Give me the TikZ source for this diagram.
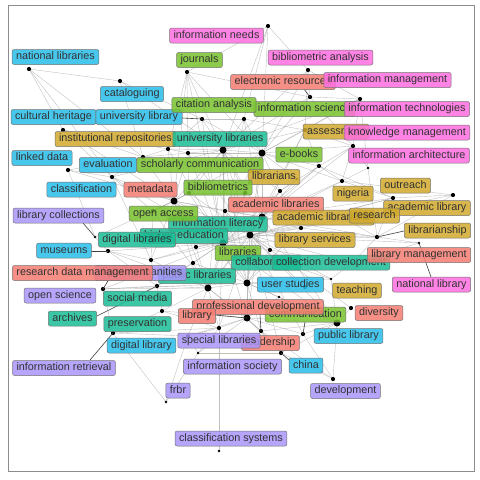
\documentclass[tikz,border=0pt]{standalone}
\usepackage{fontspec}
\setmainfont{Liberation Sans}
\definecolor{blueL}{RGB}{40,190,235}
\definecolor{pinkL}{RGB}{255,110,225}
\definecolor{salmonL}{RGB}{245,125,115}
\definecolor{greenL}{RGB}{120,195,45}
\definecolor{goldL}{RGB}{210,170,45}
\definecolor{tealL}{RGB}{25,190,150}
\definecolor{purpleL}{RGB}{170,150,250}
\definecolor{txt}{RGB}{50,50,50}
\tikzset{
  lab/.style={draw=black!55, line width=0.5pt, rounded corners=2pt, fill opacity=0.85, text opacity=1,
    inner xsep=4pt, inner ysep=0pt, minimum height=15pt, text height=8pt, text depth=2.5pt,
    text=txt, font=\fontsize{10.8}{12}\selectfont},
  bl/.style={lab, fill=blueL}, pk/.style={lab, fill=pinkL}, sa/.style={lab, fill=salmonL},
  gr/.style={lab, fill=greenL}, go/.style={lab, fill=goldL}, te/.style={lab, fill=tealL},
  pu/.style={lab, fill=purpleL},
  edge/.style={draw=black!40, line width=0.4pt, opacity=0.6},
  seg/.style={draw=black!75, line width=0.6pt},
}
\begin{document}
\begin{tikzpicture}[x=1pt,y=-1pt]
\useasboundingbox (0,0) rectangle (480,480);
\fill[white] (0,0) rectangle (480,480);
\draw[black!45, line width=0.7pt] (8,5) rectangle (474,471);
% points
\foreach \n/\x/\y in {1/29/69, 2/120/81, 3/268/26, 4/187/72, 5/308/70, 6/310/97, 7/360/99, 8/202/119,
  9/63/130, 10/168/149, 11/188/153, 12/223/150, 13/143/157, 14/244/119, 15/262/153, 16/305/130,
  17/353/146, 18/68/170, 19/112/177, 20/174/201, 21/153/211, 22/189/193, 23/225/211, 24/223/243,
  25/196/247, 26/193/263, 27/151/260, 28/157/286, 29/208/288, 30/162/311, 31/319/166, 32/280/191,
  33/301/228, 34/270/250, 35/247/283, 36/279/297, 37/331/279, 38/351/308, 39/368/168, 40/297/179,
  41/345/219, 42/352/263, 43/342/181, 44/453/195, 45/393/198, 46/377/237, 47/419/243, 48/262/217,
  49/250/235, 50/95/237, 51/108/251, 52/103/289, 53/113/333, 55/247/318, 56/219/328, 57/261/331,
  58/303/334, 59/337/323, 60/188/336, 61/198/353, 62/281/353, 63/333/379, 64/166/402, 65/219/451,
  66/245/193, 67/305/287}
  \coordinate (p\n) at (\x,\y);
% edges
\foreach \a/\b in {1/2,1/9,1/13,1/19, 2/8,2/13,2/12, 3/4,3/5,3/12,3/15,3/14,
  4/10,4/11,4/12,4/15,4/20,4/24,4/6, 5/6,5/7,5/15,5/12,5/16, 6/15,6/7,6/17,6/12,
  7/17,7/16,7/15,7/39,7/12, 8/12,8/14,8/10,8/15,8/24, 9/13,9/19,9/10,9/20,
  10/11,10/12,10/20,10/24,10/13, 11/12,11/15,11/20,11/22,11/24,11/49,
  12/14,12/15,12/20,12/22,12/24,12/49,12/48,12/23,12/35,12/32,12/29,12/66,12/16,
  13/19,13/20,13/18,13/11, 14/15,14/16,14/24,14/48,
  15/16,15/17,15/48,15/49,15/24,15/31,15/32,15/40,15/35,15/20,15/43,15/29,15/23,
  16/17,16/31,16/48,16/49, 17/39,17/31,17/48,17/43, 18/19,18/20,18/50,
  19/20,19/21,19/24,19/27,19/12, 20/21,20/22,20/23,20/24,20/25,20/49,20/48,20/29,20/35,20/26,20/27,
  21/24,21/22,21/27,21/29, 22/24,22/66,22/49, 23/24,23/48,23/49,23/35,
  24/25,24/26,24/29,24/35,24/48,24/49,24/33,24/34,24/55,24/59,24/37,24/32,24/31,24/43,24/45,24/46,24/28,24/27,24/52,24/51,24/56,
  25/27,25/29,25/49, 26/29,26/28,26/35, 27/51,27/28,27/29, 28/29,28/52,28/30,
  29/35,29/49,29/48,29/55,29/30,29/56,29/60,29/57, 30/55,30/56,30/53,
  31/32,31/43,31/48,31/45, 32/48,32/49,32/33,32/40, 33/48,33/49,33/46,33/35,33/41,
  34/49,34/35,34/48,34/42, 35/36,35/48,35/49,35/55,35/59,35/37,35/57,35/67,
  36/55,36/59, 37/42,37/59,37/49, 38/59,38/49, 39/43,39/46, 40/48, 41/46,41/49,
  42/49,42/46,42/47, 43/48,43/45,43/44, 44/45,44/49,44/46, 45/48,45/49,45/46,
  46/49,46/47,46/48, 47/49, 48/49,48/55,48/59, 49/55,49/59,49/56,49/67,49/58,49/62,
  50/20,50/51, 51/29,51/28, 52/29,52/53,52/35, 53/56,53/60,53/64,
  55/56,55/57,55/58,55/59,55/60,55/61,55/62, 56/60,56/65,56/61, 57/62,57/63,57/59,
  58/59,58/63,58/62, 59/63,59/62, 60/61,60/64, 61/62,61/64, 62/63}
  \draw[edge] (p\a) -- (p\b);
% dots
\foreach \n in {12,15,20,24,29,35,48,49,55,59} \fill[black] (p\n) circle (3.5);
\foreach \n in {1,2,3,4,5,6,7,8,9,10,11,13,14,16,17,18,19,21,22,23,25,26,27,28,30,31,32,33,34,38,43,44,45,46,51,52,53,56,57,58,60,62,63,66,67}
  \fill[black] (p\n) circle (2.1);
\foreach \n in {36,37,39,40,41,42,47,50,61,64,65} \fill[black] (p\n) circle (1.4);
% label segments
\coordinate (s1) at (182,118); \draw[seg] (s1) -- (p8);
\coordinate (s2) at (304,89); \draw[seg] (s2) -- (p6);
\coordinate (s3) at (83,223); \draw[seg] (s3) -- (p50);
\coordinate (s4) at (91,251); \draw[seg] (s4) -- (p51);
\coordinate (s5) at (404,231); \draw[seg] (s5) -- (p46);
\coordinate (s6) at (431,277); \draw[seg] (s6) -- (p47);
\coordinate (s7) at (289,360); \draw[seg] (s7) -- (p62);
\coordinate (s8) at (90,360); \draw[seg] (s8) -- (p53);
\coordinate (s9) at (97,316); \draw[seg] (s9) -- (p28);
\coordinate (s10) at (215,315); \draw[seg] (s10) -- (p55);
\coordinate (s11) at (260,314); \draw[seg] (s11) -- (p57);
\coordinate (s12) at (305,322); \draw[seg] (s12) -- (p58);
\coordinate (s13) at (108,281); \draw[seg] (s13) -- (p52);
% labels
\node[pk] (infoneeds) at (216.5,35.5) {information needs};
\node[pk] (biban) at (320.5,57.5) {bibliometric analysis};
\node[bl] (natlib) at (55.5,57) {national libraries};
\node[gr] (journals) at (199.5,60) {journals};
\node[sa] (eres) at (283,82) {electronic resources};
\node[pk] (infomgmt) at (387.5,80) {information management};
\node[bl] (catal) at (132,94) {cataloguing};
\node[gr] (infosci) at (304.5,109) {information science};
\node[pk] (infotech) at (407,109) {information technologies};
\node[bl] (cultural) at (53.5,117) {cultural heritage};
\node[bl] (univlib) at (139,117) {university library};
\node[gr] (citation) at (214,105) {citation analysis};
\node[go] (assess) at (336,131.5) {assessment};
\node[pk] (knowm) at (407,132.5) {knowledge management};
\node[go] (instrep) at (115.5,139) {institutional repositories};
\node[te] (univlibs) at (220,139) {university libraries};
\node[gr] (ebooks) at (299,154.5) {e-books};
\node[pk] (infoarch) at (409,155.5) {information architecture};
\node[bl] (linked) at (42,158) {linked data};
\node[bl] (evalu) at (108,165) {evaluation};
\node[gr] (scholarly) at (200,165) {scholarly communication};
\node[go] (librarians) at (274,177) {librarians};
\node[go] (outreach) at (405.5,185.5) {outreach};
\node[go] (nigeria) at (353,193.5) {nigeria};
\node[bl] (classif) at (81.5,189.5) {classification};
\node[sa] (metadata) at (150.5,189.5) {metadata};
\node[gr] (bibliometrics) at (218,187.5) {bibliometrics};
\node[sa] (acadlibs) at (276,204.5) {academic libraries};
\node[go] (acadlibrarians) at (323.5,217.5) {academic librarians};
\node[go] (acadlibrary) at (427,208) {academic library};
\node[go] (research) at (374.5,215.5) {research};
\node[go] (librarianship) at (437.5,230.5) {librarianship};
\node[pu] (libcoll) at (58.5,215.5) {library collections};
\node[te] (infolit) at (218,224) {information literacy};
\node[te] (higher) at (184,236) {higher education};
\node[te] (diglibs) at (137,239.5) {digital libraries};
\node[gr] (openacc) at (163.5,213.5) {open access};
\node[go] (libservices) at (315,240) {library services};
\node[bl] (museums) at (64,250.5) {museums};
\node[gr] (libraries) at (238,253) {libraries};
\node[te] (collab) at (266,262.5) {collaboration};
\node[te] (colldev) at (331,262.5) {collection development};
\node[sa] (libmgmt) at (419,255) {library management};
\node[te] (publibs) at (197,276) {public libraries};
\node[pu] (dighum) at (140.5,273) {digital humanities};
\node[sa] (rdm) at (82.5,273) {research data management};
\node[bl] (userst) at (290.5,284.5) {user studies};
\node[go] (teaching) at (357,290.5) {teaching};
\node[pk] (natlibrary) at (431.5,284.5) {national library};
\node[pu] (opensci) at (60,295.5) {open science};
\node[te] (socmedia) at (137.5,298.5) {social media};
\node[gr] (communication) at (305.5,314.5) {communication};
\node[sa] (profdev) at (258,307) {professional development};
\node[sa] (library) at (197,316) {library};
\node[sa] (diversity) at (379,313) {diversity};
\node[te] (archives) at (72.5,318.5) {archives};
\node[te] (preservation) at (137.5,324) {preservation};
\node[bl] (publib) at (348.5,336) {public library};
\node[sa] (leadership) at (270.5,343) {leadership};
\node[pu] (specialibs) at (219,340.5) {special libraries};
\node[bl] (diglib) at (141.5,345.5) {digital library};
\node[pu] (inforet) at (64,368) {information retrieval};
\node[pu] (infosoc) at (232.5,366.5) {information society};
\node[bl] (china) at (306,365.5) {china};
\node[pu] (frbr) at (178,390.5) {frbr};
\node[pu] (development) at (345.5,391) {development};
\node[pu] (classys) at (231,438.5) {classification systems};
\end{tikzpicture}
\end{document}
